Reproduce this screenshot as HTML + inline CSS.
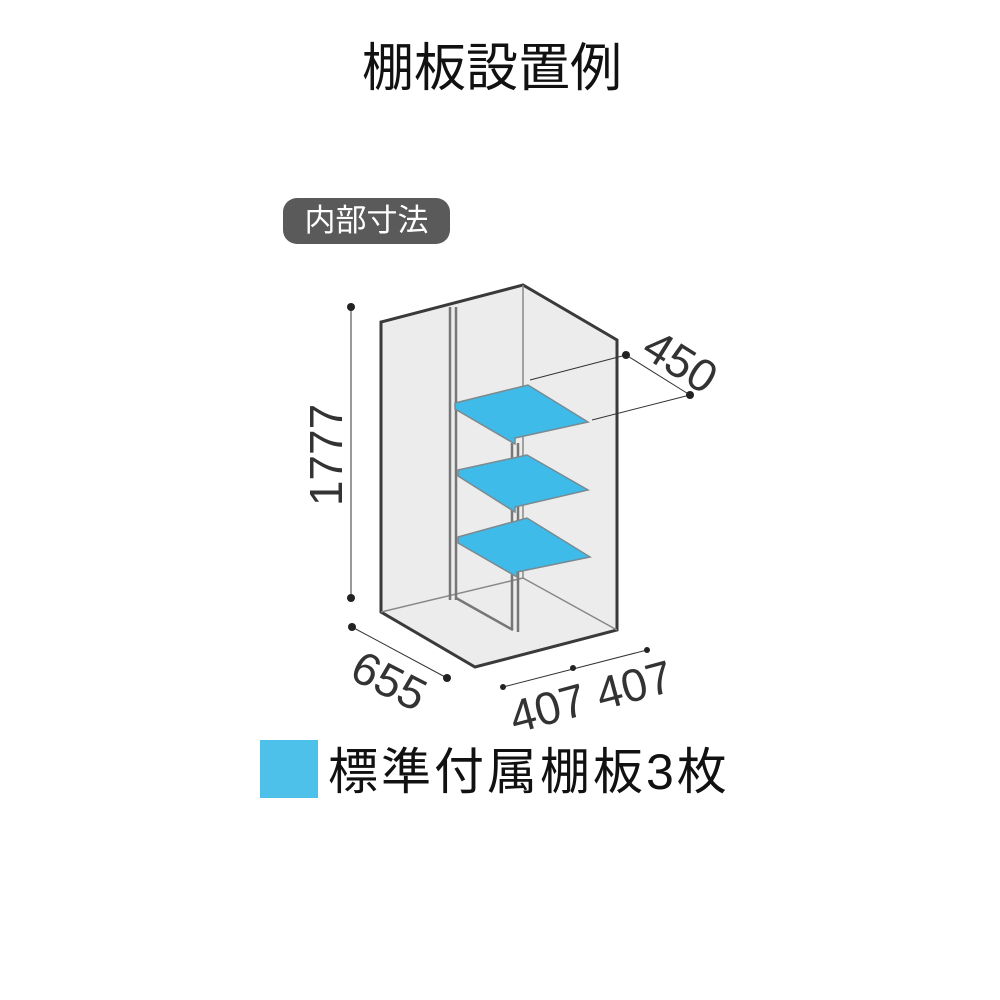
<!DOCTYPE html><html><head><meta charset="utf-8"><style>
body{margin:0;width:1000px;height:1000px;background:#fff;overflow:hidden;position:relative;font-family:"Liberation Sans","Noto Sans CJK JP",sans-serif}
.t{position:absolute;white-space:nowrap}
</style></head><body>
<div class="t" style="left:362px;top:38px;font-size:52px;line-height:62px;color:#111">棚板設置例</div>
<div class="t" style="left:283px;top:198px;width:167px;height:46px;background:#5a5a5a;border-radius:14px;color:#fff;font-size:31px;line-height:46px;text-align:center">内部寸法</div>
<svg width="1000" height="1000" style="position:absolute;left:0;top:0">
<polygon points="381,322 523,285 617,340 617,630 475,667 381,612" fill="#ececec" stroke="#3a3a3a" stroke-width="3"/>
<g stroke="#888" stroke-width="1.5" fill="none">
<line x1="523" y1="285" x2="523" y2="578"/>
<line x1="381" y1="612" x2="523" y2="578"/>
<line x1="523" y1="578" x2="617" y2="630"/>
</g>
<g stroke="#777" stroke-width="2.5" fill="none">
<line x1="450" y1="307" x2="450" y2="600"/><line x1="456" y1="307" x2="456" y2="600"/>
<line x1="512" y1="443" x2="512" y2="630"/><line x1="518" y1="443" x2="518" y2="632"/>
<line x1="456" y1="598" x2="513" y2="630"/>
</g>
<g fill="#3fbbea" stroke="#7a8a90" stroke-width="1.5">
<polygon points="455,403 528,385 588,422 515,438 515,444 455,409"/>
<polygon points="458,470 527,455 588,490 515,507 515,512 458,476"/>
<polygon points="458,537 527,518 590,557 517,572 517,577 458,543"/>
</g>
<g stroke="#333" stroke-width="1" fill="none">
<line x1="351" y1="307" x2="351" y2="598"/>
<line x1="530" y1="380" x2="626" y2="355"/>
<line x1="592" y1="420" x2="690" y2="395"/>
<line x1="626" y1="355" x2="690" y2="395"/>
<line x1="352" y1="627" x2="447" y2="678"/>
<line x1="503" y1="687" x2="647" y2="650"/>
</g>
<g fill="#222">
<circle cx="351" cy="307" r="4"/><circle cx="351" cy="598" r="4"/>
<circle cx="626" cy="355" r="4"/><circle cx="690" cy="395" r="4"/>
<circle cx="352" cy="627" r="4"/><circle cx="447" cy="678" r="4"/>
<circle cx="503" cy="687" r="3"/><circle cx="573" cy="668" r="3"/><circle cx="647" cy="650" r="3"/>
</g>
<g font-family="Liberation Sans,sans-serif" font-size="46" fill="#333" text-anchor="middle">
<text transform="translate(342,455) rotate(-90)">1777</text>
<text transform="translate(672,375) rotate(32)">450</text>
<text transform="translate(382,695) rotate(27)">655</text>
<text transform="translate(595,712) rotate(-15)">407 407</text>
</g>
</svg>
<div style="position:absolute;left:260px;top:740px;width:58px;height:58px;background:#4dc1ea"></div>
<div class="t" style="left:328px;top:742px;font-size:50px;line-height:60px;color:#111;letter-spacing:3px">標準付属棚板3枚</div>
</body></html>
